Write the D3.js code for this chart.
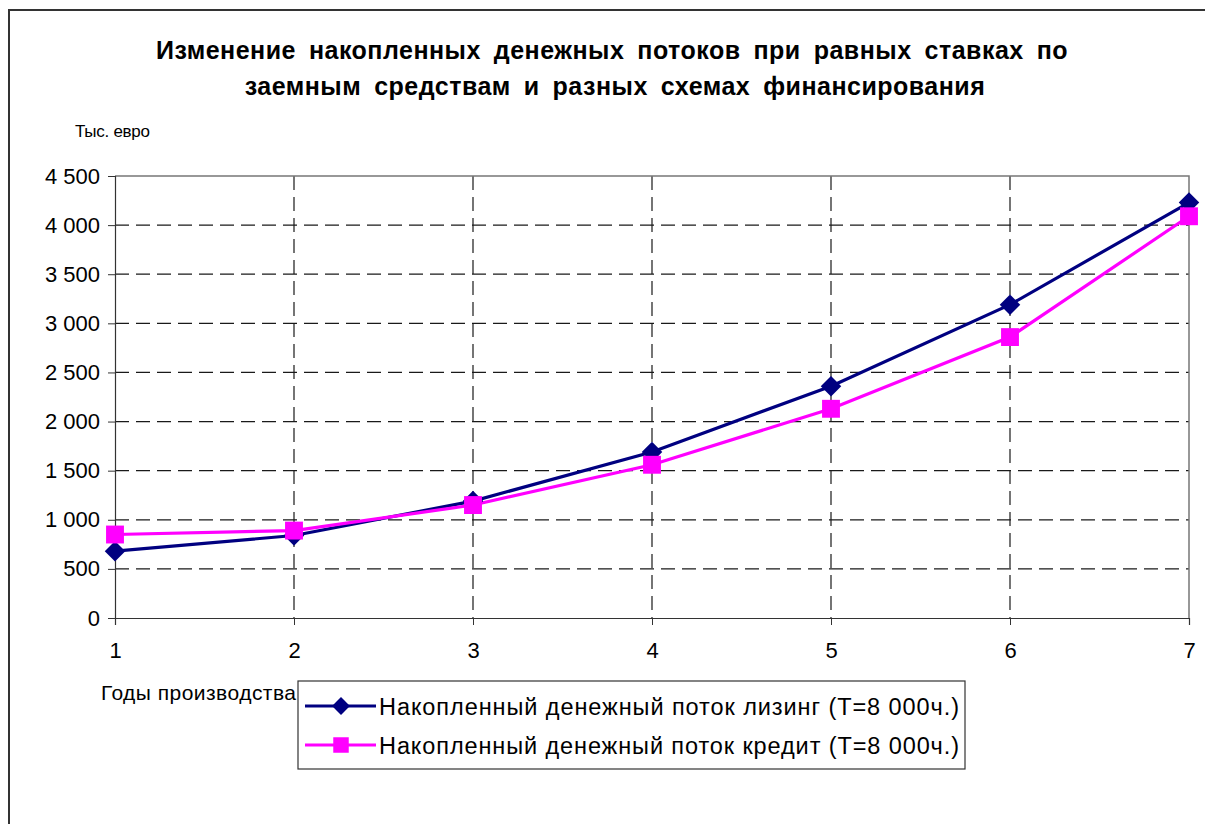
<!DOCTYPE html>
<html>
<head>
<meta charset="utf-8">
<script src="https://cdn.jsdelivr.net/npm/d3@7"></script>
<style>
  html, body { margin: 0; padding: 0; background: #fff; }
  svg { display: block; font-family: "Liberation Sans", Arial, sans-serif; }
</style>
</head>
<body>
<svg id="chart" width="1205" height="824"></svg>
<script>
// Years of production and accumulated cash flow, thousand euro
const years = [1, 2, 3, 4, 5, 6, 7];
const leasing = [680, 840, 1190, 1690, 2360, 3190, 4230];
const credit = [850, 890, 1150, 1560, 2130, 2860, 4090];
const yTicks = [0, 500, 1000, 1500, 2000, 2500, 3000, 3500, 4000, 4500];
const seriesNames = [
  "Накопленный денежный поток лизинг (Т=8 000ч.)",
  "Накопленный денежный поток кредит (Т=8 000ч.)"
];
const titleLines = [
  "Изменение накопленных денежных потоков при равных ставках по",
  "заемным средствам и разных схемах финансирования"
];

const FONT = "'Liberation Sans', Arial, sans-serif";
const svg = d3.select("#chart");

// outer chart frame
svg.append("rect")
  .attr("x", 9).attr("y", 10).attr("width", 1220).attr("height", 840)
  .attr("fill", "#fff").attr("stroke", "#333").attr("stroke-width", 2);

const m = { left: 115, right: 1189, top: 176, bottom: 618 };
const x = d3.scaleLinear().domain([1, 7]).range([m.left, m.right]);
const y = d3.scaleLinear().domain([0, 4500]).range([m.bottom, m.top]);

// title
svg.append("g").selectAll("text").data(titleLines).join("text")
  .attr("x", (d, i) => (i === 0 ? 612 : 615))
  .attr("y", (d, i) => 59 + i * 36)
  .attr("text-anchor", "middle")
  .attr("letter-spacing", 0.5)
  .attr("word-spacing", 5.5)
  .attr("font-size", 25).attr("font-weight", "bold")
  .attr("fill", "#000")
  .text(d => d);

svg.append("text").attr("x", 75).attr("y", 137)
  .attr("font-size", 17).attr("textLength", 75).attr("lengthAdjust", "spacing")
  .text("Тыс. евро");

// horizontal gridlines
svg.append("g").selectAll("line").data(yTicks.filter(v => v > 0 && v < 4500)).join("line")
  .attr("x1", m.left).attr("x2", m.right)
  .attr("y1", d => y(d)).attr("y2", d => y(d))
  .attr("stroke", "#1a1a1a").attr("stroke-width", 1.2)
  .attr("stroke-dasharray", "14,7");

// vertical gridlines
svg.append("g").selectAll("line").data(years.slice(1, -1)).join("line")
  .attr("x1", d => x(d)).attr("x2", d => x(d))
  .attr("y1", m.top).attr("y2", m.bottom)
  .attr("stroke", "#1a1a1a").attr("stroke-width", 1.2)
  .attr("stroke-dasharray", "14,7");

// plot border top & right
svg.append("path")
  .attr("d", `M${m.left},${m.top}H${m.right}V${m.bottom}`)
  .attr("fill", "none").attr("stroke", "#777").attr("stroke-width", 1.5);

// y axis
const yAxis = d3.axisLeft(y).tickValues(yTicks).tickSize(7).tickPadding(8)
  .tickFormat(d => d3.format(",")(d).replace(/,/g, " "));
const gy = svg.append("g").attr("transform", `translate(${m.left},0)`).call(yAxis);
gy.select(".domain").attr("stroke", "#333").attr("stroke-width", 1.2);
gy.selectAll(".tick line").attr("stroke", "#333");
gy.selectAll(".tick text").attr("font-size", 22).attr("fill", "#000")
  .attr("font-family", FONT);

// x axis
const xAxis = d3.axisBottom(x).tickValues(years).tickSize(7).tickPadding(17)
  .tickFormat(d3.format("d"));
const gx = svg.append("g").attr("transform", `translate(0,${m.bottom})`).call(xAxis);
gx.select(".domain").attr("stroke", "#333").attr("stroke-width", 1.2);
gx.selectAll(".tick line").attr("stroke", "#333");
gx.selectAll(".tick text").attr("font-size", 22).attr("fill", "#000")
  .attr("font-family", FONT);

svg.append("text").attr("x", 101).attr("y", 700)
  .attr("font-size", 21).attr("textLength", 195).attr("lengthAdjust", "spacing")
  .text("Годы производства");

const colors = ["#000080", "#ff00ff"];
const line = d3.line().x((d, i) => x(years[i])).y(d => y(d));

// series lines
[leasing, credit].forEach((s, k) => {
  svg.append("path").datum(s)
    .attr("d", line).attr("fill", "none")
    .attr("stroke", colors[k]).attr("stroke-width", 3.2);
});

// diamond = square turned 45 degrees, square marker
const diamondPath = d3.symbol().type(d3.symbolSquare).size(210)();
const squarePath = d3.symbol().type(d3.symbolSquare).size(320)();

// markers
svg.append("g").selectAll("path").data(leasing).join("path")
  .attr("transform", (d, i) => `translate(${x(years[i])},${y(d)}) rotate(45)`)
  .attr("d", diamondPath)
  .attr("fill", colors[0]);
svg.append("g").selectAll("path").data(credit).join("path")
  .attr("transform", (d, i) => `translate(${x(years[i])},${y(d)})`)
  .attr("d", squarePath)
  .attr("fill", colors[1]);

// legend
const lg = svg.append("g");
lg.append("rect").attr("x", 298).attr("y", 681).attr("width", 667).attr("height", 88)
  .attr("fill", "#fff").attr("stroke", "#333").attr("stroke-width", 1.2);
const rows = lg.selectAll("g.row").data(seriesNames).join("g")
  .attr("class", "row")
  .attr("transform", (d, i) => `translate(0,${706 + i * 39})`);
rows.append("line").attr("x1", 305).attr("x2", 376).attr("y1", 0).attr("y2", 0)
  .attr("stroke", (d, i) => colors[i]).attr("stroke-width", 3.2);
rows.append("path")
  .attr("transform", (d, i) => i === 0 ? "translate(341,0) rotate(45)" : "translate(341,0)")
  .attr("d", (d, i) => i === 0 ? d3.symbol().type(d3.symbolSquare).size(160)() : d3.symbol().type(d3.symbolSquare).size(240)())
  .attr("fill", (d, i) => colors[i]);
rows.append("text").attr("x", 379).attr("y", 8.5)
  .attr("font-size", 23.5).attr("fill", "#000")
  .attr("textLength", 580).attr("lengthAdjust", "spacing")
  .text(d => d);
</script>
</body>
</html>
